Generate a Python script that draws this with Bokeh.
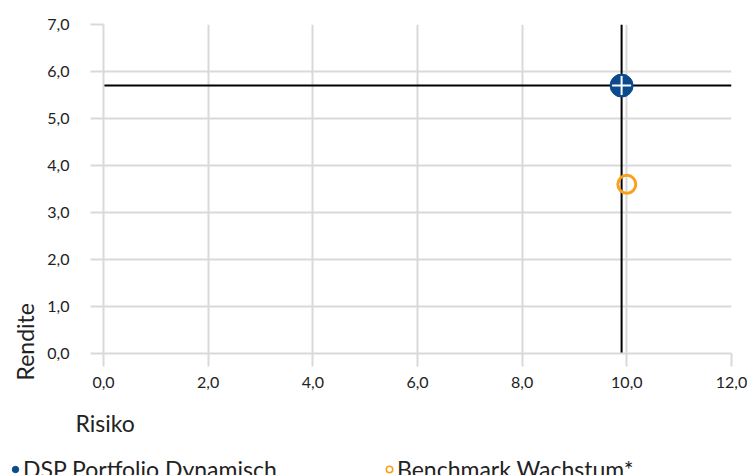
from bokeh.plotting import figure
from bokeh.layouts import column
from bokeh.models import (FixedTicker, Legend, LegendItem, Range1d, Title,
                          ColumnDataSource)
from bokeh.embed import file_html
from bokeh.resources import INLINE

# Risk / return of the portfolio and its benchmark
series = ["DSP Portfolio Dynamisch", "Benchmark Wachstum*"]
risiko = [9.9, 10.0]
rendite = [5.7, 3.6]

x_ticks = [0, 2, 4, 6, 8, 10, 12]
x_tick_labels = ["0,0", "2,0", "4,0", "6,0", "8,0", "10,0", "12,0"]
y_ticks = [0, 1, 2, 3, 4, 5, 6, 7]
y_tick_labels = ["0,0", "1,0", "2,0", "3,0", "4,0", "5,0", "6,0", "7,0"]

FONT = "Lato"
TEXT = "#222222"
BLUE = "#0b4a8c"
ORANGE = "#f9a11b"
GRID = "#d9d9d9"
TITLE_SIZE = "23px"

x_lo, x_hi = x_ticks[0], x_ticks[-1]
y_lo, y_hi = y_ticks[0], y_ticks[-1]

# ---- main chart -----------------------------------------------------------
p = figure(output_backend="svg", toolbar_location=None,
           x_range=Range1d(x_lo, x_hi), y_range=Range1d(y_lo, y_hi),
           frame_width=628, frame_height=329,
           min_border_left=103, min_border_right=16,
           min_border_top=24, min_border_bottom=92)
p.outline_line_color = None
p.background_fill_color = "white"

for ax in (p.xaxis[0], p.yaxis[0]):
    ax.axis_line_color = GRID
    ax.axis_line_width = 2
    ax.major_tick_line_color = GRID
    ax.major_tick_line_width = 2
    ax.major_tick_in = 0
    ax.major_tick_out = 13
    ax.minor_tick_line_color = None
    ax.major_label_text_font = FONT
    ax.major_label_text_font_size = "16px"
    ax.major_label_text_color = TEXT

p.xaxis.ticker = FixedTicker(ticks=x_ticks)
p.yaxis.ticker = FixedTicker(ticks=y_ticks)
p.xaxis.major_label_overrides = dict(zip(x_ticks, x_tick_labels))
p.yaxis.major_label_overrides = dict(zip(y_ticks, y_tick_labels))
p.xaxis.major_label_standoff = 10
p.yaxis.major_label_standoff = 21

p.xgrid.ticker = FixedTicker(ticks=x_ticks)
p.ygrid.ticker = FixedTicker(ticks=y_ticks)
for g in (p.xgrid[0], p.ygrid[0]):
    g.grid_line_color = GRID
    g.grid_line_width = 2

# crosshair through the portfolio point
px, py = risiko[0], rendite[0]
p.segment(x0=[x_lo, px], y0=[py, y_lo], x1=[x_hi, px], y1=[py, y_hi],
          line_color="black", line_width=2)

src_p = ColumnDataSource(dict(x=[risiko[0]], y=[rendite[0]]))
src_b = ColumnDataSource(dict(x=[risiko[1]], y=[rendite[1]]))

p.scatter("x", "y", source=src_b, marker="circle", size=18,
          fill_color=None, line_color=ORANGE, line_width=3)
p.scatter("x", "y", source=src_p, marker="circle", size=23,
          fill_color=BLUE, line_color=BLUE)
p.scatter("x", "y", source=src_p, marker="cross", size=19,
          line_color="white", line_width=2)

# axis titles, aligned to the start of each axis
p.add_layout(Title(text="Rendite", align="left", offset=-27, standoff=11,
                   text_font=FONT, text_font_size=TITLE_SIZE,
                   text_font_style="normal", text_color=TEXT), "left")
p.add_layout(Title(text="Risiko", align="left", offset=-28, standoff=33,
                   text_font=FONT, text_font_size=TITLE_SIZE,
                   text_font_style="normal", text_color=TEXT), "below")

# ---- legend strip underneath the chart --------------------------------------
leg = figure(output_backend="svg", toolbar_location=None,
             frame_width=747, frame_height=30,
             x_range=Range1d(0, 1), y_range=Range1d(0, 1),
             min_border=0, x_axis_type=None, y_axis_type=None)
leg.outline_line_color = None
leg.grid.visible = False

nan_src = ColumnDataSource(dict(x=[float("nan")], y=[float("nan")]))
sw_p = leg.scatter("x", "y", source=nan_src, marker="circle", size=7,
                   fill_color=BLUE, line_color=BLUE)
sw_b = leg.scatter("x", "y", source=nan_src, marker="circle", size=6,
                   fill_color=None, line_color=ORANGE, line_width=1.6)

legend = Legend(items=[LegendItem(label=series[0], renderers=[sw_p]),
                       LegendItem(label=series[1], renderers=[sw_b])],
                location=(7, 0), orientation="horizontal",
                border_line_color=None, background_fill_alpha=0,
                padding=0, margin=0, spacing=6,
                glyph_width=16, glyph_height=20, label_standoff=0,
                label_width=352, label_text_font=FONT,
                label_text_font_size=TITLE_SIZE, label_text_color=TEXT)
leg.add_layout(legend)

page = column(p, leg, spacing=0)
open("out.html", "w").write(file_html(page, INLINE))
